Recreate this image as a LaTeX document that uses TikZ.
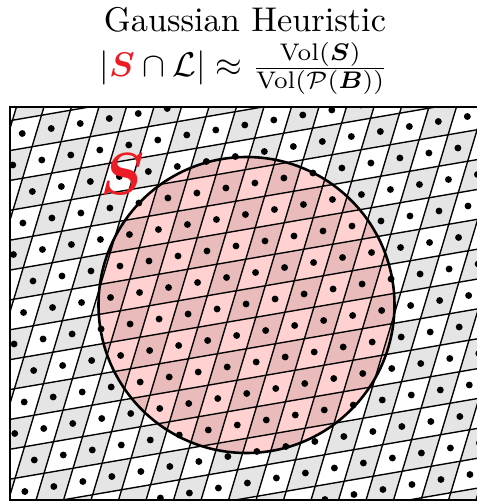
\documentclass[tikz,border=0pt]{standalone}
\usepackage{amsmath}
\usetikzlibrary{positioning}
\definecolor{cgray}{RGB}{229,229,229}
\definecolor{sred} {RGB}{237, 28, 36}
\tikzset{
  LF/.style={shift={(207,252)}, cm={29,5,9.45,31.5,(0,0)}},
  LT/.style={black, line width=0.4pt},
  CB/.style={black, line width=0.75pt},
  BX/.style={black, line width=0.6pt},
  DT/.style={circle, fill=black, inner sep=0pt, minimum size=2pt},
  GC/.style={fill=cgray},
  SF/.style={fill=red, fill opacity=0.18},
}

\begin{document}
\begin{tikzpicture}[x=0.2915pt, y=0.2915pt]
\useasboundingbox (0,0) rectangle (476,503);

%% ================================================================
%%  TITLE
%% ================================================================
\node[anchor=base] (title) at (245,471) {Gaussian Heuristic};
\node (gh) at (244,434.5)
  {$|{\color{sred}\boldsymbol{S}}\cap\mathcal{L}| \approx
    \frac{\mathrm{Vol}(\boldsymbol{S})}{\mathrm{Vol}(\mathcal{P}(\boldsymbol{B}))}$};

%% ================================================================
%%  LATTICE
%% ================================================================
\begin{scope}
  \clip (10,3) rectangle (480,396);

  % checkerboard of cells
  \begin{scope}[LF]
    \foreach \i in {-10,...,13}
      \foreach \j in {-11,...,7}{
        \pgfmathtruncatemacro{\odd}{mod(\i+\j+100,2)}
        \ifnum\odd=0
          \fill[GC] (\i-0.5,\j-0.5) -- (\i+0.5,\j-0.5) -- (\i+0.5,\j+0.5)
                    -- (\i-0.5,\j+0.5) -- cycle;
        \fi
      }
  \end{scope}

  % region S
  \fill[SF] (246.5,198) circle[radius=148];

  % cell edges
  \begin{scope}[LF]
    \foreach \i in {-11,...,13}
      \draw[LT] (\i+0.5,-12) -- (\i+0.5,8);
    \foreach \j in {-12,...,7}
      \draw[LT] (-11,\j+0.5) -- (14,\j+0.5);
  \end{scope}

  \draw[CB] (246.5,198) circle[radius=148];

  % lattice points
  \begin{scope}[LF]
    \foreach \i in {-10,...,13}
      \foreach \j in {-11,...,7}
        \node[DT] (dot-\i-\j) at (\i,\j) {};
  \end{scope}
\end{scope}

\draw[BX] (10,3) rectangle (480,396);

\node[sred, font=\LARGE] (slab) at (122.5,329) {$\boldsymbol{S}$};

\end{tikzpicture}
\end{document}
